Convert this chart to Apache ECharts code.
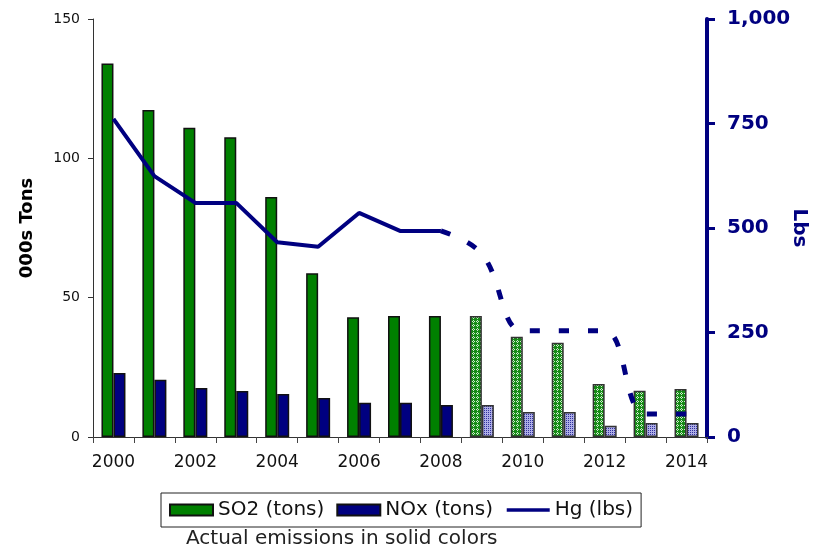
<!DOCTYPE html>
<html>
<head>
<meta charset="utf-8">
<script src="https://cdn.jsdelivr.net/npm/echarts@6/dist/echarts.min.js"></script>
<style>
html,body{margin:0;padding:0;background:#fff;}
#chart{width:820px;height:557px;}
</style>
</head>
<body>
<div id="chart"></div>
<script>
// ---- data ----
const years = ['2000','2001','2002','2003','2004','2005','2006','2007','2008','2009','2010','2011','2012','2013','2014'];
const so2 = [134, 117.3, 111, 107.6, 86.1, 58.8, 43, 43.4, 43.4, 43.4, 36, 33.8, 19, 16.6, 17.2];
const nox = [23, 20.5, 17.6, 16.5, 15.4, 14, 12.3, 12.3, 11.5, 11.5, 9, 9, 4, 5, 5];
const hg = [761, 624, 560, 560, 466, 455, 536, 493, 493, 438, 254, 254, 254, 55, 55];
const lastActualYear = '2008';
const leftTicks = [0, 50, 100, 150];
const rightTicks = [0, 250, 500, 750, 1000];
const note = 'Actual emissions in solid colors';

const GREEN = '#008000', NAVY = '#000080';

function makePattern(size, bg, fg, pts) {
  const c = document.createElement('canvas');
  c.width = size; c.height = size;
  const g = c.getContext('2d');
  g.fillStyle = bg; g.fillRect(0, 0, size, size);
  g.fillStyle = fg;
  pts.forEach(p => g.fillRect(p[0], p[1], 1, 1));
  return { image: c, repeat: 'repeat' };
}
const so2Pattern = makePattern(4, '#168c16', '#cfe8cf', [[0,1],[1,0],[1,2],[2,1]]);
const noxPattern = makePattern(2, '#aeaee6', '#30309e', [[0,0]]);

const lastIdx = years.indexOf(lastActualYear);
const so2Data = so2.map((v, i) => i > lastIdx
  ? { value: v, itemStyle: { color: so2Pattern, borderColor: '#333' } } : v);
const noxData = nox.map((v, i) => i > lastIdx
  ? { value: v, itemStyle: { color: noxPattern, borderColor: '#333' } } : v);
const hgActual = hg.map((v, i) => i <= lastIdx ? v : null);
const hgProjected = hg.map((v, i) => i >= lastIdx ? v : null);

const FONT = 'DejaVu Sans';

const chart = echarts.init(document.getElementById('chart'), null, { renderer: 'canvas' });
chart.setOption({
  animation: false,
  backgroundColor: '#fff',
  textStyle: { fontFamily: FONT },
  title: {
    text: note,
    left: 186, top: 529, padding: 0,
    textStyle: { fontFamily: FONT, fontSize: 20, fontWeight: 'normal', color: '#222' }
  },
  legend: {
    data: [
      { name: 'SO2 (tons)', icon: 'rect' },
      { name: 'NOx (tons)', icon: 'rect' },
      { name: 'Hg (lbs)', itemStyle: { opacity: 0 }, lineStyle: { width: 3.5 } }
    ],
    left: 161, top: 493,
    padding: [7, 8, 7, 8],
    itemWidth: 43, itemHeight: 11, itemGap: 12,
    borderColor: '#222', borderWidth: 1,
    textStyle: { fontFamily: FONT, fontSize: 20, color: '#111' }
  },
  grid: { left: 93, right: 113, top: 19, bottom: 120, outerBoundsMode: 'none', containLabel: false },
  xAxis: [{
    type: 'category', data: years, boundaryGap: true,
    axisLine: { lineStyle: { color: '#555', width: 1 } },
    axisTick: { show: true, interval: 0, length: 6, lineStyle: { color: '#444' } },
    axisLabel: { interval: 1, margin: 17, fontSize: 17, color: '#111', fontFamily: FONT }
  }, {
    type: 'category', data: years, position: 'top',
    axisLine: { show: true, lineStyle: { color: '#333', width: 1 } },
    axisTick: { show: false }, axisLabel: { show: false }
  }],
  yAxis: [{
    type: 'value', min: leftTicks[0], max: leftTicks[leftTicks.length - 1], interval: 50,
    name: '000s Tons', nameLocation: 'middle', nameGap: 57, nameRotate: 90,
    nameTextStyle: { fontFamily: FONT, fontSize: 18, fontWeight: 'bold', color: '#000' },
    axisLine: { show: true, lineStyle: { color: '#333', width: 1 } },
    axisTick: { show: true, length: 5, lineStyle: { color: '#333' } },
    axisLabel: { margin: 13, fontSize: 14, color: '#111', fontFamily: FONT },
    splitLine: { show: false }
  }, {
    type: 'value', min: rightTicks[0], max: rightTicks[rightTicks.length - 1], interval: 250,
    position: 'right',
    name: 'Lbs', nameLocation: 'middle', nameGap: 82, nameRotate: -90, nameMoveOverlap: false,
    nameTextStyle: { fontFamily: FONT, fontSize: 20, fontWeight: 'bold', color: NAVY },
    axisLine: { show: true, lineStyle: { color: NAVY, width: 4 } },
    axisTick: { show: true, length: 8, lineStyle: { color: NAVY, width: 3 } },
    axisLabel: { margin: 20, fontSize: 20, fontWeight: 'bold', color: NAVY, fontFamily: FONT,
      formatter: v => v.toLocaleString('en-US') },
    splitLine: { show: false }
  }],
  series: [{
    name: 'SO2 (tons)', type: 'bar', data: so2Data, barWidth: 12, barGap: '0%',
    itemStyle: { color: GREEN, borderColor: '#111', borderWidth: 1.5 }
  }, {
    name: 'NOx (tons)', type: 'bar', data: noxData, barWidth: 12, barGap: '0%',
    itemStyle: { color: NAVY, borderColor: '#111', borderWidth: 1.5 }
  }, {
    name: 'Hg (lbs)', type: 'line', yAxisIndex: 1, data: hgActual, symbol: 'none',
    lineStyle: { color: NAVY, width: 4 }, itemStyle: { color: NAVY }
  }, {
    name: 'Hg projected', type: 'line', yAxisIndex: 1, data: hgProjected, symbol: 'none',
    smooth: 0.4,
    lineStyle: { color: NAVY, width: 5, type: [10, 19] }, itemStyle: { color: NAVY }
  }]
});
</script>
</body>
</html>
